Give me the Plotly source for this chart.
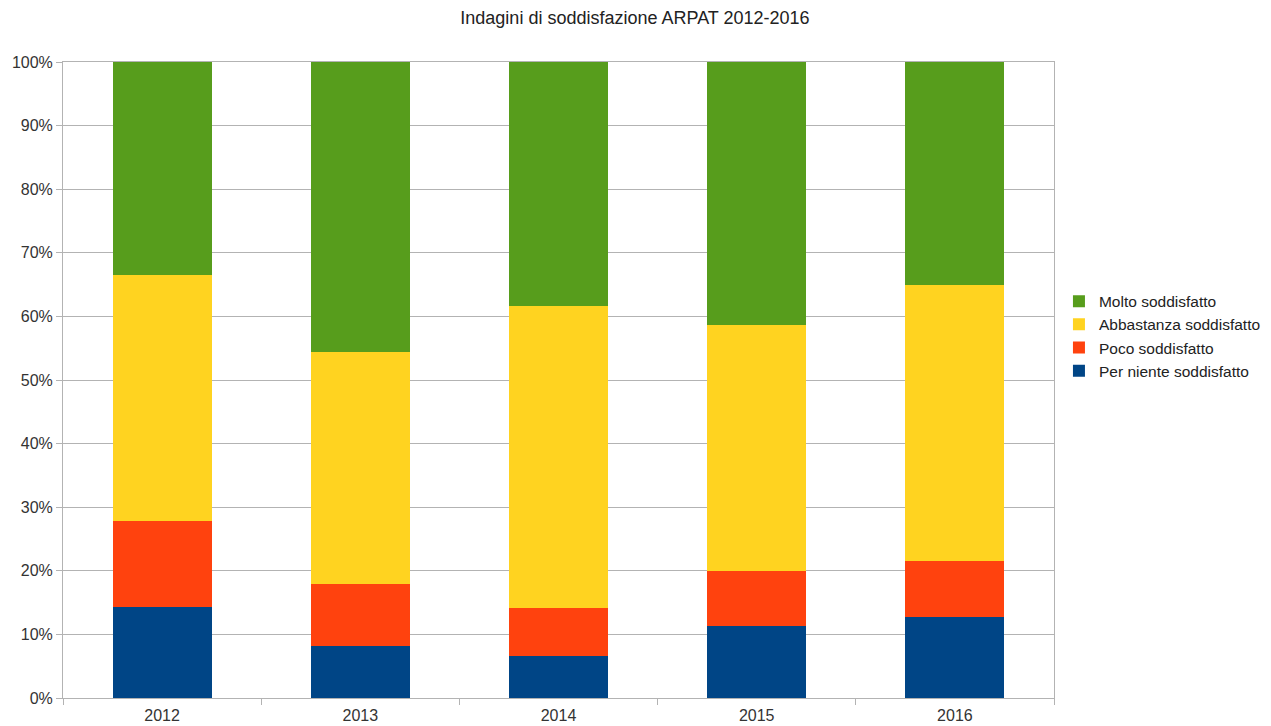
import plotly.graph_objects as go

years = ["2012", "2013", "2014", "2015", "2016"]
per_niente = [14.3, 8.2, 6.6, 11.3, 12.7]
poco = [13.5, 9.7, 7.6, 8.7, 8.8]
abbastanza = [38.7, 36.5, 47.4, 38.6, 43.4]
molto = [33.5, 45.6, 38.4, 41.4, 35.1]

series = [
    ("Per niente soddisfatto", per_niente, "#004586"),
    ("Poco soddisfatto", poco, "#FF420E"),
    ("Abbastanza soddisfatto", abbastanza, "#FFD320"),
    ("Molto soddisfatto", molto, "#579D1C"),
]

fig = go.Figure()
for name, vals, col in series:
    fig.add_trace(go.Bar(x=years, y=vals, name=name, marker=dict(color=col, line=dict(width=0))))

fig.update_layout(
    barmode="stack",
    bargap=0.5,
    width=1263, height=718,
    paper_bgcolor="white", plot_bgcolor="white",
    margin=dict(l=55, r=217, t=54, b=28, autoexpand=False),
    font=dict(family="Liberation Sans, Arial, sans-serif", size=16, color="#333333"),
    title=dict(text="Indagini di soddisfazione ARPAT 2012-2016", x=0.4964, xref="container",
               xanchor="center",
               y=0.986, yref="container", yanchor="middle", font=dict(size=18, color="#222222")),
    legend=dict(traceorder="reversed", x=1.005, xanchor="left", y=0.569, yanchor="middle",
                font=dict(size=15.5, color="#222222"), itemwidth=30, tracegroupgap=0),
    xaxis=dict(type="category", showline=True, linecolor="#b3b3b3", mirror=True, automargin=False,
               ticks="outside", tickson="boundaries", ticklen=6, tickcolor="#b3b3b3",
               ticklabelstandoff=3,
               showgrid=False, tickfont=dict(size=16, color="#333333")),
    yaxis=dict(range=[0, 100], dtick=10, ticksuffix="%", showgrid=True, gridcolor="#b3b3b3",
               showline=True, linecolor="#b3b3b3", mirror=True, ticks="outside", ticklen=6,
               automargin=False,
               tickcolor="#b3b3b3", zeroline=False, tickfont=dict(size=16, color="#333333")),
)

fig.write_html("out.html")
